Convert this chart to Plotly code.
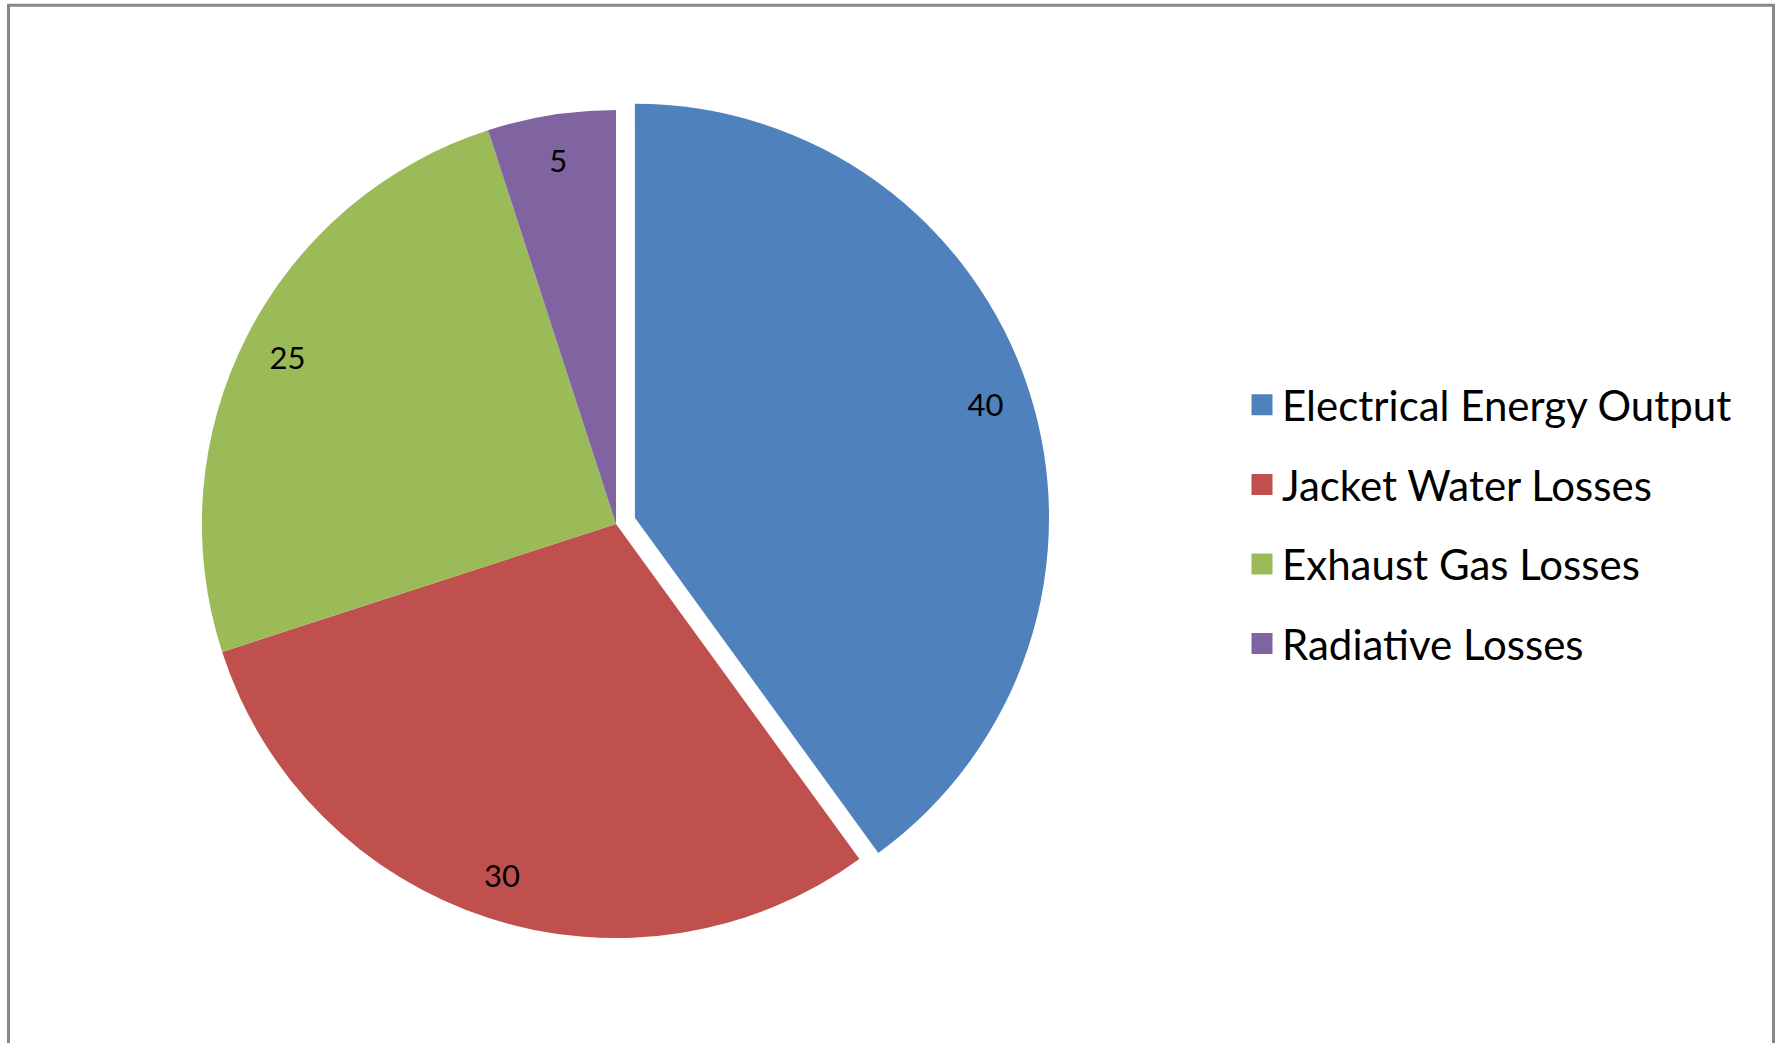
import plotly.graph_objects as go

# ---- data ----
categories = ["Electrical Energy Output", "Jacket Water Losses", "Exhaust Gas Losses", "Radiative Losses"]
values = [40, 30, 25, 5]
colors = ["#4F81BD", "#C0504D", "#9BBB59", "#8064A2"]
pulls = [0.048, 0, 0, 0]

W, H = 1777, 1043
FONT = "Lato"

dom_x = [182 / W, 1050 / W]
dom_y = [1 - 958 / H, 1 - 90 / H]

fig = go.Figure()

# main pie (slices)
fig.add_trace(go.Pie(
    labels=categories, values=values, sort=False, direction="clockwise",
    rotation=0, pull=pulls, marker=dict(colors=colors, line=dict(width=0)),
    textinfo="none", hoverinfo="label+value", showlegend=False,
    domain=dict(x=dom_x, y=dom_y),
))

# transparent ring overlay carrying the value labels near the rim
fig.add_trace(go.Pie(
    labels=categories, values=values, sort=False, direction="clockwise",
    rotation=0, pull=pulls, hole=0.78,
    marker=dict(colors=["rgba(0,0,0,0)"] * len(values), line=dict(width=0)),
    texttemplate="%{value}", textposition="inside", insidetextorientation="horizontal",
    textfont=dict(family=FONT, size=31, color="#000000"),
    hoverinfo="skip", showlegend=False,
    domain=dict(x=dom_x, y=dom_y),
))

# legend entries
for i, (name, c) in enumerate(zip(categories, colors)):
    fig.add_trace(go.Scatter(
        x=[None], y=[None], mode="markers", name=name, legendgroup=name,
        marker=dict(symbol="square", size=16, color=c, line=dict(color=c, width=5)),
        hoverinfo="skip",
    ))

fig.update_layout(
    width=W, height=H,
    margin=dict(l=0, r=0, t=0, b=0),
    paper_bgcolor="white", plot_bgcolor="white",
    xaxis=dict(visible=False), yaxis=dict(visible=False),
    font=dict(family=FONT, color="#000000"),
    legend=dict(
        x=1242 / W, xanchor="left", y=1 - 371 / H, yanchor="top",
        font=dict(family=FONT, size=42, color="#000000"),
        tracegroupgap=22, bgcolor="rgba(0,0,0,0)", borderwidth=0,
        traceorder="grouped",
    ),
    shapes=[dict(
        type="rect", xref="paper", yref="paper",
        x0=8.5 / W, x1=1773.5 / W, y0=-0.05, y1=1 - 5.3 / H,
        line=dict(color="#878787", width=3), fillcolor="rgba(0,0,0,0)",
    )],
)

fig.write_html("out.html", config={"displayModeBar": False},
               post_script="document.body.style.margin='0px';")
